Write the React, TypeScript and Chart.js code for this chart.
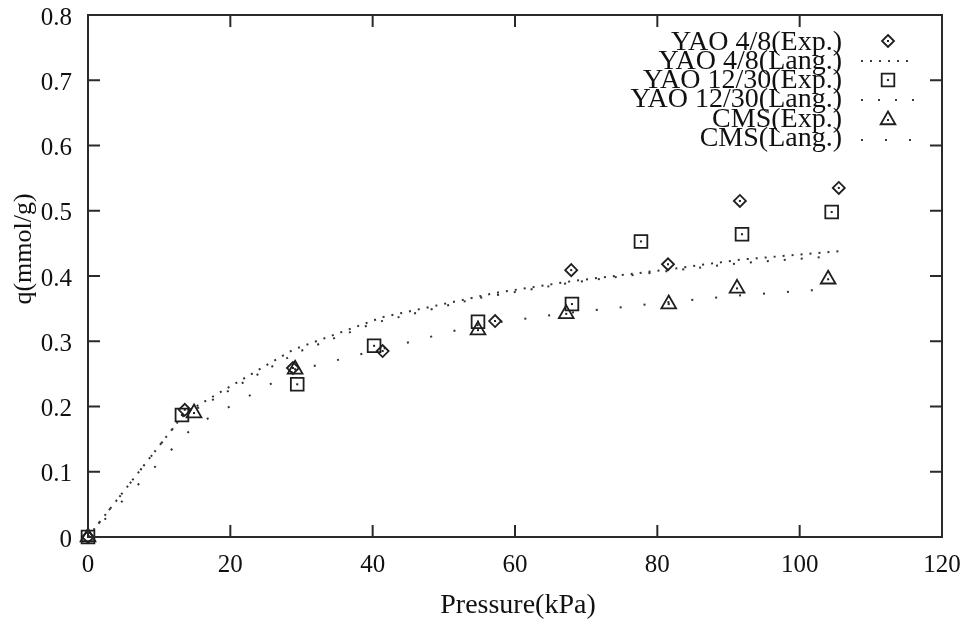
import { useEffect, useRef } from "react";
import { Chart, registerables } from "chart.js";

Chart.register(...registerables);

const xTicks = [0, 20, 40, 60, 80, 100, 120];
const yTicks = [0, 0.1, 0.2, 0.3, 0.4, 0.5, 0.6, 0.7, 0.8];
const yTickLabels = ["0", "0.1", "0.2", "0.3", "0.4", "0.5", "0.6", "0.7", "0.8"];
const xTitle = "Pressure(kPa)";
const yTitle = "q(mmol/g)";

const yao48P = [0, 13.6, 28.8, 41.4, 57.2, 67.9, 81.5, 91.6, 105.5];
const yao48ExpQ = [0, 0.195, 0.259, 0.285, 0.331, 0.409, 0.418, 0.515, 0.535];
const yao48LangQ = [0, 0.19, 0.287, 0.337, 0.374, 0.392, 0.41, 0.425, 0.438];

const yao1230P = [0, 13.2, 29.4, 40.2, 54.8, 68.0, 77.7, 91.9, 104.5];
const yao1230ExpQ = [0, 0.187, 0.234, 0.293, 0.33, 0.357, 0.453, 0.464, 0.498];
const yao1230LangQ = [0, 0.184, 0.283, 0.328, 0.366, 0.39, 0.403, 0.42, 0.43];

const cmsP = [0, 14.9, 29.1, 54.8, 67.2, 81.6, 91.2, 104.0];
const cmsExpQ = [0, 0.19, 0.257, 0.317, 0.342, 0.357, 0.381, 0.395];
const cmsLangQ = [0, 0.17, 0.255, 0.325, 0.343, 0.36, 0.37, 0.38];

const legendLabels = [
  "YAO 4/8(Exp.)",
  "YAO 4/8(Lang.)",
  "YAO 12/30(Exp.)",
  "YAO 12/30(Lang.)",
  "CMS(Exp.)",
  "CMS(Lang.)",
];

const INK = "#1e1e1e";
const SERIF = '"Liberation Serif", "Times New Roman", serif';
const dashA = [2, 7];
const dashB = [2, 15];
const dashC = [2, 22];

const pts = (xs: number[], ys: number[]) => xs.map((x, i) => ({ x, y: ys[i] }));

function drawMarker(ctx: CanvasRenderingContext2D, kind: string, x: number, y: number) {
  ctx.beginPath();
  if (kind === "diamond") {
    const r = 6;
    ctx.moveTo(x, y - r);
    ctx.lineTo(x + r, y);
    ctx.lineTo(x, y + r);
    ctx.lineTo(x - r, y);
    ctx.closePath();
  } else if (kind === "square") {
    const s = 6.3;
    ctx.rect(x - s, y - s, 2 * s, 2 * s);
  } else {
    const r = 8.5;
    ctx.moveTo(x, y - r);
    ctx.lineTo(x + r * 0.866, y + r * 0.5);
    ctx.lineTo(x - r * 0.866, y + r * 0.5);
    ctx.closePath();
  }
  ctx.stroke();
  ctx.fillRect(x - 1, y - 1, 2, 2);
}

const framePlugin = {
  id: "frame",
  afterDatasetsDraw(chart: any) {
    const { ctx, chartArea: a, scales } = chart;
    const xs = scales.x;
    const ys = scales.y;
    ctx.save();
    ctx.fillStyle = INK;
    chart.data.datasets.forEach((ds: any, i: number) => {
      if (!ds.marker) return;
      const meta = chart.getDatasetMeta(i);
      meta.data.forEach((el: any) => ctx.fillRect(el.x - 1, el.y - 1, 2, 2));
    });
    ctx.strokeStyle = "#2a2a2a";
    ctx.lineWidth = 2;
    ctx.setLineDash([]);
    ctx.strokeRect(a.left, a.top, a.right - a.left, a.bottom - a.top);
    const L = 12;
    ctx.beginPath();
    xTicks.forEach((v) => {
      const p = xs.getPixelForValue(v);
      ctx.moveTo(p, a.bottom);
      ctx.lineTo(p, a.bottom - L);
      ctx.moveTo(p, a.top);
      ctx.lineTo(p, a.top + L);
    });
    yTicks.forEach((v) => {
      const p = ys.getPixelForValue(v);
      ctx.moveTo(a.left, p);
      ctx.lineTo(a.left + L, p);
      ctx.moveTo(a.right, p);
      ctx.lineTo(a.right - L, p);
    });
    ctx.stroke();

    ctx.fillStyle = "#111";
    ctx.font = `28px ${SERIF}`;
    ctx.textAlign = "center";
    ctx.textBaseline = "alphabetic";
    ctx.fillText(xTitle, (a.left + a.right) / 2 + 3, 613);
    ctx.save();
    ctx.translate(24, 249);
    ctx.rotate(-Math.PI / 2);
    ctx.font = `26px ${SERIF}`;
    ctx.textBaseline = "middle";
    ctx.fillText(yTitle, 0, 0);
    ctx.restore();

    const textRight = 842;
    const baselines = [50, 69, 88, 107, 127, 146];
    ctx.font = `28px ${SERIF}`;
    ctx.textAlign = "right";
    ctx.textBaseline = "alphabetic";
    legendLabels.forEach((t, i) => ctx.fillText(t, textRight, baselines[i]));
    ctx.strokeStyle = INK;
    ctx.fillStyle = INK;
    ctx.lineWidth = 1.8;
    drawMarker(ctx, "diamond", 888, 41);
    drawMarker(ctx, "square", 888, 80);
    drawMarker(ctx, "triangle", 888, 120);
    ctx.strokeStyle = "#3a3a3a";
    ctx.lineWidth = 2;
    const lines: [number, number[]][] = [
      [61, dashA],
      [100, dashB],
      [140, dashC],
    ];
    lines.forEach(([y, d]) => {
      ctx.setLineDash(d);
      ctx.beginPath();
      ctx.moveTo(861, y);
      ctx.lineTo(914, y);
      ctx.stroke();
    });
    ctx.restore();
  },
};

export default function App() {
  const ref = useRef<HTMLCanvasElement>(null);
  useEffect(() => {
    if (!ref.current) return;
    const lang = (label: string, xs: number[], ys: number[], dash: number[]) => ({
      type: "line" as const,
      label,
      data: pts(xs, ys),
      showLine: true,
      borderColor: "#333",
      borderWidth: 2,
      borderDash: dash,
      pointRadius: 0,
      fill: false,
      tension: 0,
      order: 2,
    });
    const exp = (label: string, xs: number[], ys: number[], style: string, r: number) => ({
      type: "scatter" as const,
      label,
      data: pts(xs, ys),
      showLine: false,
      pointStyle: style,
      pointRadius: r,
      pointBorderWidth: 1.8,
      pointBorderColor: INK,
      pointBackgroundColor: "rgba(0,0,0,0)",
      borderColor: INK,
      backgroundColor: "rgba(0,0,0,0)",
      clip: false,
      marker: true,
      order: 1,
    });
    const chart = new Chart(ref.current, {
      type: "scatter",
      data: {
        datasets: [
          exp(legendLabels[0], yao48P, yao48ExpQ, "rectRot", 6),
          lang(legendLabels[1], yao48P, yao48LangQ, dashA),
          exp(legendLabels[2], yao1230P, yao1230ExpQ, "rect", 9),
          lang(legendLabels[3], yao1230P, yao1230LangQ, dashB),
          exp(legendLabels[4], cmsP, cmsExpQ, "triangle", 8.5),
          lang(legendLabels[5], cmsP, cmsLangQ, dashC),
        ] as any,
      },
      options: {
        responsive: false,
        animation: false,
        layout: { padding: { left: 0, right: 27, top: 15, bottom: 0 } },
        plugins: { legend: { display: false }, tooltip: { enabled: false } },
        scales: {
          x: {
            type: "linear",
            min: 0,
            max: 120,
            grid: { display: false, drawTicks: false },
            border: { display: false },
            afterBuildTicks: (s: any) => {
              s.ticks = xTicks.map((v) => ({ value: v }));
            },
            afterFit: (s: any) => {
              s.height = 84;
              s.paddingLeft = 0;
              s.paddingRight = 0;
            },
            ticks: {
              padding: 13,
              color: "#111",
              font: { family: SERIF, size: 25 },
              maxRotation: 0,
              callback: (v: any) => String(v),
            },
          },
          y: {
            type: "linear",
            min: 0,
            max: 0.8,
            grid: { display: false, drawTicks: false },
            border: { display: false },
            afterBuildTicks: (s: any) => {
              s.ticks = yTicks.map((v) => ({ value: v }));
            },
            afterFit: (s: any) => {
              s.width = 88;
              s.paddingTop = 0;
              s.paddingBottom = 0;
            },
            ticks: {
              padding: 16,
              color: "#111",
              font: { family: SERIF, size: 25, lineHeight: 0.24 },
              callback: (v: any) => {
                const i = yTicks.findIndex((t) => Math.abs(t - v) < 1e-9);
                return i >= 0 ? ["", yTickLabels[i]] : "";
              },
            },
          },
        },
      },
      plugins: [framePlugin],
    });
    return () => chart.destroy();
  }, []);
  return (
    <div style={{ position: "absolute", left: 0, top: 0, width: 969, height: 621, background: "#fff" }}>
      <canvas ref={ref} width={969} height={621} style={{ width: 969, height: 621, display: "block" }} />
    </div>
  );
}
